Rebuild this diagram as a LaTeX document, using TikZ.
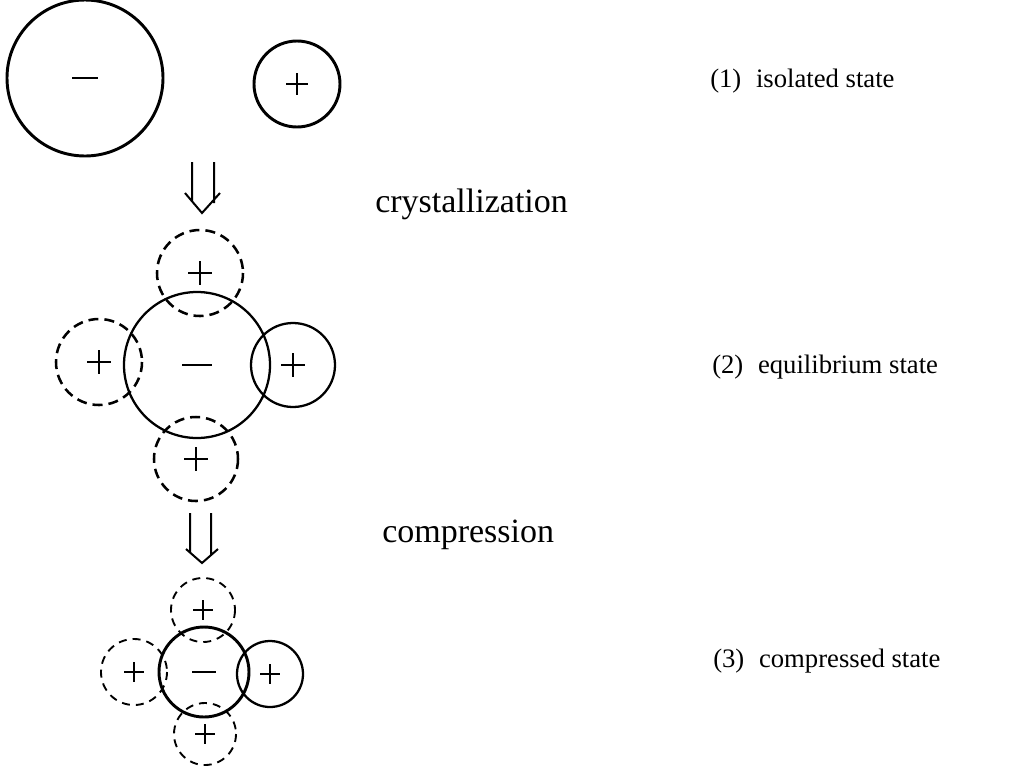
\documentclass[tikz,border=0pt]{standalone}
\usepackage{fontspec}
\setmainfont{Liberation Serif}
\usetikzlibrary{calc}
\begin{document}
\begin{tikzpicture}[x=0.75pt,y=-0.75pt,
  ion/.style={line width=2.2pt},
  ionthin/.style={line width=1.7pt},
  shell/.style={line width=1.9pt, dash pattern=on 7.5pt off 4.5pt},
  shellthin/.style={line width=1.4pt, dash pattern=on 6pt off 4.5pt},
  sign/.style={line width=1.3pt},
  arrowline/.style={line width=1.5pt},
  caption/.style={anchor=base west, inner sep=0pt, font=\fontsize{20}{24}\selectfont},
  process/.style={anchor=base west, inner sep=0pt, font=\fontsize{25.5}{30}\selectfont},
  pics/plus/.style={code={\draw[sign] (-#1,0)--(#1,0) (0,-#1)--(0,#1);}},
  pics/minus/.style={code={\draw[sign] (-#1,0)--(#1,0);}}]
\useasboundingbox (0,0) rectangle (1020,768);

% ---- (1) isolated ions ----
\coordinate (an0) at (85,78);
\coordinate (ca0) at (297,84);
\draw[ion] (an0) circle[radius=78];
\draw[ion] (ca0) circle[radius=43];
\pic at (an0) {minus=13};
\pic at (ca0) {plus=11};

% hollow arrow: crystallization
\coordinate (t1) at (202,213);
\draw[arrowline] ($(t1)+(-10,-51)$) -- ($(t1)+(-10,-12)$)
                 ($(t1)+(12,-51)$) -- ($(t1)+(12,-10)$)
                 ($(t1)+(-17,-20)$) -- (t1) -- ($(t1)+(18,-20)$);

% ---- (2) equilibrium lattice ----
\coordinate (an1) at (197,365);
\coordinate (ct1) at (200,273);
\coordinate (cl1) at (99,362);
\coordinate (cr1) at (293,365);
\coordinate (cb1) at (196,459);
\draw[ionthin] (an1) circle[radius=73];
\draw[ionthin] (cr1) circle[radius=42];
\draw[shell] (ct1) circle[radius=43];
\draw[shell] (cl1) circle[radius=43];
\draw[shell] (cb1) circle[radius=42];
\pic at (an1) {minus=15};
\pic at (ct1) {plus=12};
\pic at (cl1) {plus=12};
\pic at (cr1) {plus=12};
\pic at (cb1) {plus=12};

% hollow arrow: compression
\coordinate (t2) at (202,563);
\draw[arrowline] ($(t2)+(-12,-50)$) -- ($(t2)+(-12,-10.5)$)
                 ($(t2)+(9,-50)$) -- ($(t2)+(9,-8)$)
                 ($(t2)+(-16,-14)$) -- (t2) -- ($(t2)+(16,-14)$);

% ---- (3) compressed lattice ----
\coordinate (an2) at (204,672);
\coordinate (ct2) at (203,610);
\coordinate (cl2) at (134,672);
\coordinate (cr2) at (270,674);
\coordinate (cb2) at (205,734);
\draw[ion] (an2) circle[radius=45];
\draw[ionthin] (cr2) circle[radius=33];
\draw[shellthin] (ct2) circle[radius=32];
\draw[shellthin] (cl2) circle[radius=33];
\draw[shellthin] (cb2) circle[radius=31];
\pic at (an2) {minus=12};
\pic at (ct2) {plus=10};
\pic at (cl2) {plus=10};
\pic at (cr2) {plus=10};
\pic at (cb2) {plus=10};

% ---- labels ----
\node[caption] (l1) at (710,87) {(1)\hspace{0.55em}isolated state};
\node[process] (l1a) at (375,212) {crystallization};
\node[caption] (l2) at (712,373) {(2)\hspace{0.55em}equilibrium state};
\node[process] (l2a) at (382,542) {compression};
\node[caption] (l3) at (713,667) {(3)\hspace{0.55em}compressed state};
\end{tikzpicture}
\end{document}
